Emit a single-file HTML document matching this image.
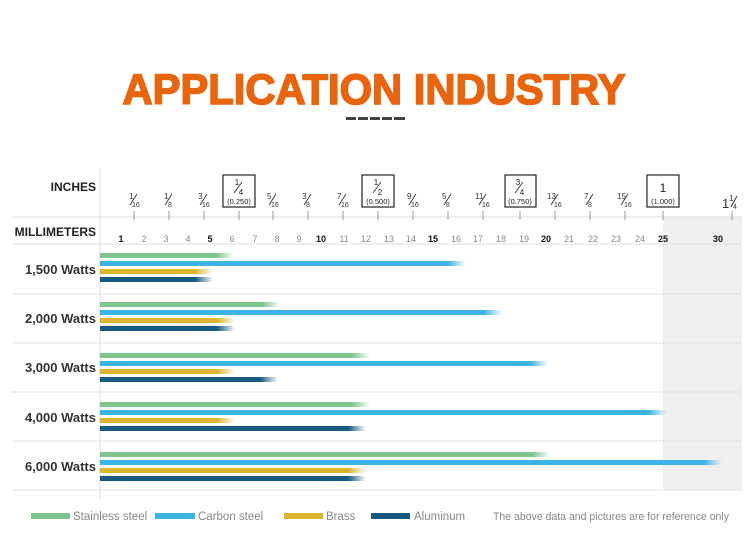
<!DOCTYPE html>
<html><head><meta charset="utf-8"><style>
html,body{margin:0;padding:0;background:#fff}
svg{display:block;font-family:"Liberation Sans",sans-serif}
</style></head><body>
<svg width="750" height="544" viewBox="0 0 750 544" xmlns="http://www.w3.org/2000/svg">
<defs>
<linearGradient id="fg" x1="0" x2="1" y1="0" y2="0"><stop offset="0" stop-color="#7dc48e"/><stop offset="1" stop-color="#7dc48e" stop-opacity="0"/></linearGradient>
<linearGradient id="fb" x1="0" x2="1" y1="0" y2="0"><stop offset="0" stop-color="#3db3e3"/><stop offset="1" stop-color="#3db3e3" stop-opacity="0"/></linearGradient>
<linearGradient id="fy" x1="0" x2="1" y1="0" y2="0"><stop offset="0" stop-color="#dcb52e"/><stop offset="1" stop-color="#dcb52e" stop-opacity="0"/></linearGradient>
<linearGradient id="fn" x1="0" x2="1" y1="0" y2="0"><stop offset="0" stop-color="#175a80"/><stop offset="1" stop-color="#175a80" stop-opacity="0"/></linearGradient>
</defs>
<text x="374" y="104" text-anchor="middle" font-size="43" font-weight="bold" fill="#e8650f" stroke="#e8650f" stroke-width="1.6" textLength="503" lengthAdjust="spacingAndGlyphs">APPLICATION INDUSTRY</text>
<g fill="#444"><rect x="346" y="117" width="10" height="3"/><rect x="358" y="117" width="10" height="3"/><rect x="370" y="117" width="10" height="3"/><rect x="382" y="117" width="10" height="3"/><rect x="394" y="117" width="11" height="3"/></g>

<rect x="663" y="217" width="79" height="273" fill="#efefef"/>
<line x1="100" y1="168" x2="100" y2="500" stroke="#ddd"/>
<line x1="12" y1="217" x2="742" y2="217" stroke="#ddd"/>
<line x1="12" y1="244" x2="742" y2="244" stroke="#ddd"/>
<g stroke="#e2e2e2"><line x1="12" y1="294" x2="742" y2="294"/><line x1="12" y1="343" x2="742" y2="343"/><line x1="12" y1="392" x2="742" y2="392"/><line x1="12" y1="441" x2="742" y2="441"/><line x1="12" y1="490" x2="742" y2="490"/></g>

<text x="96" y="191" text-anchor="end" font-size="12" font-weight="bold" fill="#222">INCHES</text>
<text x="96" y="236" text-anchor="end" font-size="12" font-weight="bold" fill="#222">MILLIMETERS</text>

<g stroke="#999">
<line x1="134" y1="211" x2="134" y2="220"/><line x1="169" y1="211" x2="169" y2="220"/><line x1="204" y1="211" x2="204" y2="220"/><line x1="239" y1="211" x2="239" y2="220"/><line x1="273" y1="211" x2="273" y2="220"/><line x1="308" y1="211" x2="308" y2="220"/><line x1="343" y1="211" x2="343" y2="220"/><line x1="378" y1="211" x2="378" y2="220"/><line x1="413" y1="211" x2="413" y2="220"/><line x1="448" y1="211" x2="448" y2="220"/><line x1="483" y1="211" x2="483" y2="220"/><line x1="520" y1="211" x2="520" y2="220"/><line x1="555" y1="211" x2="555" y2="220"/><line x1="590" y1="211" x2="590" y2="220"/><line x1="625" y1="211" x2="625" y2="220"/><line x1="663" y1="211" x2="663" y2="220"/><line x1="732" y1="211" x2="732" y2="220"/>
</g>

<g stroke="#333" stroke-width="0.9">
<line x1="130" y1="205" x2="137" y2="194"/><line x1="165" y1="205" x2="172" y2="194"/><line x1="200" y1="205" x2="207" y2="194"/><line x1="269" y1="205" x2="276" y2="194"/><line x1="304" y1="205" x2="311" y2="194"/><line x1="339" y1="205" x2="346" y2="194"/><line x1="409" y1="205" x2="416" y2="194"/><line x1="444" y1="205" x2="451" y2="194"/><line x1="479" y1="205" x2="486" y2="194"/><line x1="551" y1="205" x2="558" y2="194"/><line x1="586" y1="205" x2="593" y2="194"/><line x1="621" y1="205" x2="628" y2="194"/><line x1="731" y1="207" x2="737" y2="196"/>
<line x1="235" y1="193" x2="242" y2="183"/><line x1="374" y1="193" x2="381" y2="183"/><line x1="516" y1="193" x2="523" y2="183"/>
</g>
<g font-size="8" fill="#333">
<text x="129" y="199">1</text><text x="132" y="207" font-size="7">16</text>
<text x="164" y="199">1</text><text x="168" y="207" font-size="7">8</text>
<text x="198" y="199">3</text><text x="202" y="207" font-size="7">16</text>
<text x="267" y="199">5</text><text x="271" y="207" font-size="7">16</text>
<text x="302" y="199">3</text><text x="306" y="207" font-size="7">8</text>
<text x="337" y="199">7</text><text x="341" y="207" font-size="7">16</text>
<text x="407" y="199">9</text><text x="411" y="207" font-size="7">16</text>
<text x="442" y="199">5</text><text x="446" y="207" font-size="7">8</text>
<text x="475" y="199">11</text><text x="482" y="207" font-size="7">16</text>
<text x="547" y="199">13</text><text x="554" y="207" font-size="7">16</text>
<text x="584" y="199">7</text><text x="588" y="207" font-size="7">8</text>
<text x="617" y="199">15</text><text x="624" y="207" font-size="7">16</text>
<text x="722" y="208" font-size="13">1</text><text x="729" y="201">1</text><text x="733" y="209" font-size="7">4</text>
</g>
<g fill="#fff" stroke="#222" stroke-width="1.2">
<rect x="223" y="175" width="32" height="32"/><rect x="362" y="175" width="32" height="32"/><rect x="505" y="175" width="31" height="32"/><rect x="647" y="175" width="32" height="32"/>
</g>
<g stroke="#333" stroke-width="0.9">
<line x1="234" y1="193" x2="242" y2="182"/><line x1="373" y1="193" x2="381" y2="182"/><line x1="515" y1="193" x2="523" y2="182"/>
</g>
<g font-size="8" fill="#222" text-anchor="middle">
<text x="237" y="185">1</text><text x="241" y="195">4</text><text x="239" y="204" font-size="7.5">(0.250)</text>
<text x="376" y="185">1</text><text x="380" y="195">2</text><text x="378" y="204" font-size="7.5">(0.500)</text>
<text x="518" y="185">3</text><text x="522" y="195">4</text><text x="520" y="204" font-size="7.5">(0.750)</text>
<text x="663" y="192" font-size="12">1</text><text x="663" y="204" font-size="7.5">(1.000)</text>
</g>

<g font-size="9" fill="#888" text-anchor="middle">
<text x="121" y="242" font-weight="bold" fill="#111">1</text><text x="144" y="242">2</text><text x="166" y="242">3</text><text x="188" y="242">4</text><text x="210" y="242" font-weight="bold" fill="#111">5</text><text x="232" y="242">6</text><text x="255" y="242">7</text><text x="277" y="242">8</text><text x="299" y="242">9</text><text x="321" y="242" font-weight="bold" fill="#111">10</text><text x="344" y="242">11</text><text x="366" y="242">12</text><text x="389" y="242">13</text><text x="411" y="242">14</text><text x="433" y="242" font-weight="bold" fill="#111">15</text><text x="456" y="242">16</text><text x="478" y="242">17</text><text x="501" y="242">18</text><text x="524" y="242">19</text><text x="546" y="242" font-weight="bold" fill="#111">20</text><text x="569" y="242">21</text><text x="593" y="242">22</text><text x="616" y="242">23</text><text x="640" y="242">24</text><text x="663" y="242" font-weight="bold" fill="#111">25</text><text x="718" y="242" font-weight="bold" fill="#111">30</text>
</g>

<g font-size="13" font-weight="bold" fill="#333" text-anchor="end">
<text x="96" y="274">1,500 Watts</text><text x="96" y="323">2,000 Watts</text><text x="96" y="372">3,000 Watts</text><text x="96" y="422">4,000 Watts</text><text x="96" y="471">6,000 Watts</text>
</g>

<g>
<rect x="100" y="253" width="116" height="5" fill="#7dc48e"/><rect x="216" y="253" width="18" height="5" fill="url(#fg)"/>
<rect x="100" y="261" width="348" height="5" fill="#3db3e3"/><rect x="448" y="261" width="18" height="5" fill="url(#fb)"/>
<rect x="100" y="269" width="95" height="5" fill="#dcb52e"/><rect x="195" y="269" width="18" height="5" fill="url(#fy)"/>
<rect x="100" y="277" width="95" height="5" fill="#175a80"/><rect x="195" y="277" width="18" height="5" fill="url(#fn)"/>
<rect x="100" y="302" width="162" height="5" fill="#7dc48e"/><rect x="262" y="302" width="18" height="5" fill="url(#fg)"/>
<rect x="100" y="310" width="384" height="5" fill="#3db3e3"/><rect x="484" y="310" width="18" height="5" fill="url(#fb)"/>
<rect x="100" y="318" width="117" height="5" fill="#dcb52e"/><rect x="217" y="318" width="18" height="5" fill="url(#fy)"/>
<rect x="100" y="326" width="117" height="5" fill="#175a80"/><rect x="217" y="326" width="18" height="5" fill="url(#fn)"/>
<rect x="100" y="353" width="252" height="5" fill="#7dc48e"/><rect x="352" y="353" width="18" height="5" fill="url(#fg)"/>
<rect x="100" y="361" width="430" height="5" fill="#3db3e3"/><rect x="530" y="361" width="18" height="5" fill="url(#fb)"/>
<rect x="100" y="369" width="117" height="5" fill="#dcb52e"/><rect x="217" y="369" width="18" height="5" fill="url(#fy)"/>
<rect x="100" y="377" width="160" height="5" fill="#175a80"/><rect x="260" y="377" width="18" height="5" fill="url(#fn)"/>
<rect x="100" y="402" width="252" height="5" fill="#7dc48e"/><rect x="352" y="402" width="18" height="5" fill="url(#fg)"/>
<rect x="100" y="410" width="549" height="5" fill="#3db3e3"/><rect x="649" y="410" width="18" height="5" fill="url(#fb)"/>
<rect x="100" y="418" width="117" height="5" fill="#dcb52e"/><rect x="217" y="418" width="18" height="5" fill="url(#fy)"/>
<rect x="100" y="426" width="248" height="5" fill="#175a80"/><rect x="348" y="426" width="18" height="5" fill="url(#fn)"/>
<rect x="100" y="452" width="432" height="5" fill="#7dc48e"/><rect x="532" y="452" width="18" height="5" fill="url(#fg)"/>
<rect x="100" y="460" width="604" height="5" fill="#3db3e3"/><rect x="704" y="460" width="18" height="5" fill="url(#fb)"/>
<rect x="100" y="468" width="248" height="5" fill="#dcb52e"/><rect x="348" y="468" width="18" height="5" fill="url(#fy)"/>
<rect x="100" y="476" width="248" height="5" fill="#175a80"/><rect x="348" y="476" width="18" height="5" fill="url(#fn)"/>
</g>

<g font-size="11.5" fill="#888">
<rect x="31" y="513" width="39" height="6" fill="#7dc48e"/><text x="73" y="520">Stainless steel</text>
<rect x="155" y="513" width="40" height="6" fill="#3db3e3"/><text x="198" y="520">Carbon steel</text>
<rect x="284" y="513" width="39" height="6" fill="#dcb52e"/><text x="326" y="520">Brass</text>
<rect x="371" y="513" width="39" height="6" fill="#175a80"/><text x="414" y="520">Aluminum</text>
<text x="493" y="520" font-size="11" textLength="236" lengthAdjust="spacingAndGlyphs">The above data and pictures are for reference only</text>
</g>
</svg>
</body></html>
